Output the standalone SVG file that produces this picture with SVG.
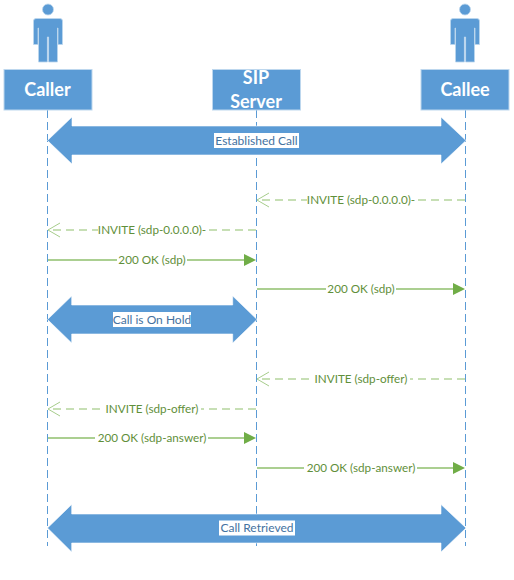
<svg xmlns="http://www.w3.org/2000/svg" width="514" height="580" viewBox="0 0 514 580">
<style>
.box{fill:#5b9bd5;stroke:#bdd7ee;stroke-width:1}
.person{fill:#5b9bd5;stroke:#bdd7ee;stroke-width:.8}
.nt{font-family:Lato,"Liberation Sans",sans-serif;font-size:18px;font-weight:700;fill:#fff;text-anchor:middle}
.life{stroke:#5b9bd5;stroke-width:1;stroke-dasharray:8 4;fill:none}
.big{fill:#5b9bd5;stroke:#fff;stroke-width:.6}
.bl{font-family:Lato,"Liberation Sans",sans-serif;font-size:12px;fill:#44729f;text-anchor:middle}
.gl{font-family:Lato,"Liberation Sans",sans-serif;font-size:11.700px;fill:#5f8f3a;text-anchor:middle}
.ds{stroke:#8fbf6d;stroke-width:1.200;stroke-dasharray:8 5;fill:none}
.so{stroke:#8fbf6d;stroke-width:1.500;fill:none}
.open{stroke:#8fbf6d;stroke-width:.8;fill:none}
.w{fill:#fff}
</style>
<defs>
<g id="man">
<circle cx="0" cy="-52.500" r="5.500" class="person"/>
<path d="M-12-43.500H12Q14.500-43.500 14.500-41V-17.500H10V-34H9.500V0H.6V-25H-.6V0H-9.500V-34H-10V-17.500H-14.500V-41Q-14.500-43.500-12-43.500Z" class="person"/>
</g>
<path id="fill" d="M0 0l-12-6v12z" fill="#70ad47"/>
</defs>
<g id="connectors">
<path class="life" d="M47.500 110V546M256.500 110V546M465.500 110V546"/>
<g id="msg1"><path class="ds" d="M465 200H257"/><path class="open" d="M269 193L257 200L269 207"/><rect class="w" x="307" y="193" width="108" height="14"/><text class="gl" x="361" y="204">INVITE (sdp-0.0.0.0)-</text></g>
<g id="msg2"><path class="ds" d="M256 230H48"/><path class="open" d="M60 223L48 230L60 237"/><rect class="w" x="98" y="223" width="108" height="14"/><text class="gl" x="152" y="234">INVITE (sdp-0.0.0.0)-</text></g>
<g id="msg3"><path class="so" d="M48 260H246"/><use href="#fill" x="256" y="260"/><rect class="w" x="117" y="253" width="70" height="14"/><text class="gl" x="152" y="264">200 OK (sdp)</text></g>
<g id="msg4"><path class="so" d="M257 289H455"/><use href="#fill" x="465" y="289"/><rect class="w" x="326" y="282" width="70" height="14"/><text class="gl" x="361" y="293">200 OK (sdp)</text></g>
<g id="msg5"><path class="ds" d="M465 379H257"/><path class="open" d="M269 372L257 379L269 386"/><rect class="w" x="312" y="372" width="98" height="14"/><text class="gl" x="361" y="383">INVITE (sdp-offer)</text></g>
<g id="msg6"><path class="ds" d="M256 409H48"/><path class="open" d="M60 402L48 409L60 416"/><rect class="w" x="103" y="402" width="98" height="14"/><text class="gl" x="152" y="413">INVITE (sdp-offer)</text></g>
<g id="msg7"><path class="so" d="M48 438H246"/><use href="#fill" x="256" y="438"/><rect class="w" x="95" y="431" width="113" height="14"/><text class="gl" x="152" y="442">200 OK (sdp-answer)</text></g>
<g id="msg8"><path class="so" d="M257 468H455"/><use href="#fill" x="465" y="468"/><rect class="w" x="304" y="461" width="113" height="14"/><text class="gl" x="361" y="472">200 OK (sdp-answer)</text></g>
</g>
<g id="caller"><use href="#man" x="48" y="62"/><rect class="box" x="4" y="69.500" width="88" height="40.500"/><text class="nt" x="47.500" y="95.500">Caller</text></g>
<g id="sip"><rect class="box" x="212.500" y="69.500" width="88" height="40.500"/><text class="nt" x="256" y="84">SIP</text><text class="nt" x="256" y="107.500">Server</text></g>
<g id="callee"><use href="#man" x="465" y="62"/><rect class="box" x="421" y="69.500" width="88" height="40.500"/><text class="nt" x="465" y="95.500">Callee</text></g>
<g id="established"><path class="big" d="M47.500 140.500L72 117V126H441V117L466 140.500L441 164V155H72V164Z"/><rect class="w" x="214" y="133" width="85" height="15"/><text class="bl" x="256.500" y="144.500">Established Call</text></g>
<g id="hold"><path class="big" d="M47.500 319.500L71.700 296V305H232.700V296L257 319.500L232.700 343V334H71.700V343Z"/><rect class="w" x="113" y="312" width="78" height="15"/><text class="bl" x="152" y="323.500">Call is On Hold</text></g>
<g id="retrieved"><path class="big" d="M47.500 528L71.700 504.500V514H441V504.500L466 528L441 552V543H71.700V552Z"/><rect class="w" x="219" y="520.500" width="76" height="15"/><text class="bl" x="257" y="532">Call Retrieved</text></g>
</svg>
